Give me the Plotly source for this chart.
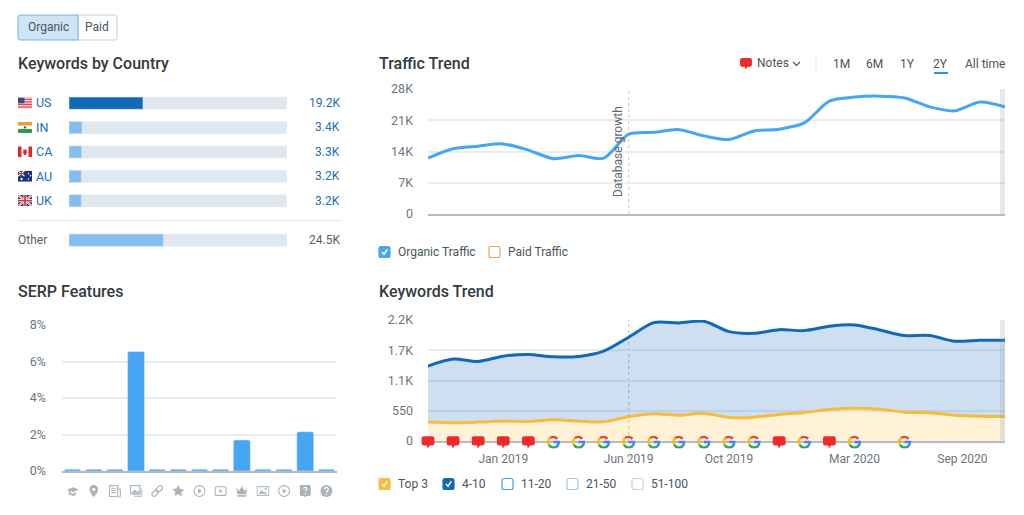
import base64
import plotly.graph_objects as go

W, H = 1024, 515

# ---------- data ----------
countries = ["US", "IN", "CA", "AU", "UK"]
country_values = [19.2, 3.4, 3.3, 3.2, 3.2]
country_labels = ["19.2K", "3.4K", "3.3K", "3.2K", "3.2K"]
other_value = [24.5]
other_label = "24.5K"
country_total = 56.6

serp_features = ["Instant answer", "Local pack", "Top stories", "Image pack", "Site links", "Reviews", "Video",
                 "Featured video", "Top ads", "Images", "Video carousel", "People also ask", "Knowledge panel"]
serp_values = [0.1, 0.1, 0.1, 6.55, 0.1, 0.1, 0.1, 0.1, 1.7, 0.1, 0.1, 2.15, 0.1]

months = ["Oct 2018", "Nov 2018", "Dec 2018", "Jan 2019", "Feb 2019", "Mar 2019", "Apr 2019", "May 2019",
          "Jun 2019", "Jul 2019", "Aug 2019", "Sep 2019", "Oct 2019", "Nov 2019", "Dec 2019", "Jan 2020",
          "Feb 2020", "Mar 2020", "Apr 2020", "May 2020", "Jun 2020", "Jul 2020", "Aug 2020", "Sep 2020"]
organic_traffic = [12.5, 14.6, 15.2, 15.7, 14.3, 12.4, 13.1, 12.5, 17.9, 18.3, 18.9, 17.5,
                   16.7, 18.6, 19.0, 20.4, 25.3, 26.2, 26.4, 26.0, 24.0, 23.1, 25.1, 24.0]
kw_4_10 = [1362, 1489, 1447, 1543, 1573, 1531, 1537, 1634, 1887, 2152, 2146, 2176,
           1989, 1959, 2025, 2007, 2086, 2110, 2019, 1917, 1917, 1814, 1832, 1832]
kw_top3 = [344, 332, 344, 362, 356, 386, 362, 350, 440, 494, 470, 506,
           428, 434, 482, 518, 573, 597, 579, 524, 512, 470, 452, 446]
note_months = [0, 1, 2, 3, 4, 14, 16]
google_months = [5, 6, 7, 8, 9, 10, 11, 12, 13, 15, 17, 19]

traffic_ticks = [0, 7, 14, 21, 28]
traffic_ticktext = ["0", "7K", "14K", "21K", "28K"]
kw_ticks = [0, 550, 1100, 1650, 2200]
kw_ticktext = ["0", "550", "1.1K", "1.7K", "2.2K"]
serp_ticks = [0, 2, 4, 6, 8]
serp_ticktext = ["0%", "2%", "4%", "6%", "8%"]
date_tick_pos = [3, 8, 12, 17, 21.3]
date_tick_text = ["Jan 2019", "Jun 2019", "Oct 2019", "Mar 2020", "Sep 2020"]

# ---------- style ----------
FONT = "Roboto"
INK = "#333a40"
GREY = "#6c757d"
LINK = "#1a6fb8"
TRACK = "#dfe7ef"
DARK = "#1269b8"
LIGHT = "#85bdec"
BLUE = "#46a6f3"
YEL = "#f7bb3e"
GRID = "#e8edf0"
AXIS = "#b4bcc2"
SMOOTH = 0.8


def px(x):
    return x / W


def py(y):
    return 1 - y / H


def svg_uri(body, vb="0 0 24 24"):
    s = f'<svg xmlns="http://www.w3.org/2000/svg" viewBox="{vb}">{body}</svg>'
    return "data:image/svg+xml;base64," + base64.b64encode(s.encode()).decode()


NOTE = svg_uri('<path d="M5 2h14a4 4 0 0 1 4 4v8a4 4 0 0 1-4 4h-4l-4 5-1-5H5a4 4 0 0 1-4-4V6a4 4 0 0 1 4-4z" fill="#ee2a2a"/>')
GOOG = svg_uri(
    '<g fill="none" stroke-width="4.6">'
    '<path d="M19 6.2A10 10 0 0 0 5 4.9" stroke="#ea4335"/>'
    '<path d="M5.6 4.4A10 10 0 0 0 3.8 17.6" stroke="#fbbc05"/>'
    '<path d="M3.6 17.2A10 10 0 0 0 18.6 20" stroke="#34a853"/>'
    '<path d="M18 20.2A10 10 0 0 0 22 12H12" stroke="#4285f4"/></g>')

FLAGS = {
    "US": svg_uri('<rect width="28" height="20" fill="#fff"/>'
                  + "".join(f'<rect y="{i*3}" width="28" height="1.6" fill="#d5333d"/>' for i in range(7))
                  + '<rect width="13" height="10.5" fill="#3c4a8c"/>', "0 0 28 20"),
    "IN": svg_uri('<rect width="28" height="7" fill="#f59a3c"/><rect y="7" width="28" height="6" fill="#fff"/>'
                  '<rect y="13" width="28" height="7" fill="#2c9a3f"/><circle cx="14" cy="10" r="2.2" fill="#3c4a8c"/>',
                  "0 0 28 20"),
    "CA": svg_uri('<rect width="28" height="20" fill="#fff"/><rect width="7" height="20" fill="#e22a2a"/>'
                  '<rect x="21" width="7" height="20" fill="#e22a2a"/>'
                  '<path d="M14 4l1.5 3 2.5-1-1 4 2 .5-3 3.500v2h-4v-2l-3-3.500 2-.5-1-4 2.500 1z" fill="#e22a2a"/>',
                  "0 0 28 20"),
    "AU": svg_uri('<rect width="28" height="20" fill="#1d2f7a"/><path d="M0 0l13 10M13 0L0 10" stroke="#fff" stroke-width="2"/>'
                  '<path d="M6.500 0v10M0 5h13" stroke="#d5333d" stroke-width="2"/>'
                  '<circle cx="21" cy="5" r="1.500" fill="#fff"/><circle cx="25" cy="9" r="1.500" fill="#fff"/>'
                  '<circle cx="21" cy="15" r="1.500" fill="#fff"/><circle cx="7" cy="15" r="2.200" fill="#fff"/>',
                  "0 0 28 20"),
    "UK": svg_uri('<rect width="28" height="20" fill="#26387f"/><path d="M0 0l28 20M28 0L0 20" stroke="#fff" stroke-width="4"/>'
                  '<path d="M0 0l28 20M28 0L0 20" stroke="#d5333d" stroke-width="1.500"/>'
                  '<path d="M14 0v20M0 10h28" stroke="#fff" stroke-width="6"/>'
                  '<path d="M14 0v20M0 10h28" stroke="#d5333d" stroke-width="3.500"/>', "0 0 28 20"),
}

G = "#a8b3ba"
play_c = f'<circle cx="12" cy="12" r="10" fill="none" stroke="{G}" stroke-width="2"/><path d="M9.500 7.500l7 4.500-7 4.500z" fill="{G}"/>'
SERP_ICONS = [
    svg_uri(f'<path d="M1 10l12-5 10 4-10 5-5-2v8H5v-9z" fill="{G}"/><path d="M8 15l5 2 5-3v5l-5 2-5-2z" fill="{G}"/>'),
    svg_uri(f'<path d="M12 1a8 8 0 0 0-8 8c0 6 8 14 8 14s8-8 8-14a8 8 0 0 0-8-8z" fill="{G}"/><circle cx="12" cy="9" r="3" fill="#fff"/>'),
    svg_uri(f'<rect x="2" y="2" width="15" height="20" fill="none" stroke="{G}" stroke-width="2"/><path d="M5 7h9M5 11h9M5 15h9" stroke="{G}" stroke-width="2"/><path d="M17 9h5v12a2 2 0 0 1-5 0" fill="none" stroke="{G}" stroke-width="2"/>'),
    svg_uri(f'<rect x="2" y="2" width="17" height="15" fill="none" stroke="{G}" stroke-width="2"/><path d="M4 15l5-6 4 4 2-2 3 4z" fill="{G}"/><path d="M21 6v13H6M23 9v13H9" fill="none" stroke="{G}" stroke-width="1.500"/>'),
    svg_uri(f'<g fill="none" stroke="{G}" stroke-width="2.200" transform="rotate(-45 12 12)"><rect x="0" y="8" width="13" height="8" rx="4"/><rect x="11" y="8" width="13" height="8" rx="4"/></g>'),
    svg_uri(f'<path d="M12 1l3.400 7.200 7.600 1-5.600 5.300 1.500 7.800L12 17.500 5.100 21.300l1.500-7.800L1 8.200l7.600-1z" fill="{G}"/>'),
    svg_uri(play_c),
    svg_uri(f'<rect x="2" y="4" width="20" height="16" rx="2" fill="none" stroke="{G}" stroke-width="2"/><path d="M9.500 8.500l6 3.500-6 3.500z" fill="{G}"/>'),
    svg_uri(f'<path d="M2 6l5 6 5-9 5 9 5-6-2 12H4z" fill="{G}"/><rect x="4" y="19.500" width="16" height="3" fill="{G}"/>'),
    svg_uri(f'<rect x="1" y="4" width="22" height="16" fill="none" stroke="{G}" stroke-width="2"/><path d="M4 17l6-7 4 5 2-2 4 4z" fill="{G}"/><circle cx="17" cy="8" r="2" fill="{G}"/>'),
    svg_uri(play_c),
    svg_uri(f'<path d="M4 1h16a2 2 0 0 1 2 2v16a2 2 0 0 1-2 2h-6l-3 3-1-3H4a2 2 0 0 1-2-2V3a2 2 0 0 1 2-2z" fill="{G}"/><path d="M9 8a3 3 0 1 1 4.500 2.600c-1 .6-1.500 1.200-1.500 2.400" fill="none" stroke="#fff" stroke-width="2"/><circle cx="12" cy="17" r="1.300" fill="#fff"/>'),
    svg_uri(f'<circle cx="12" cy="12" r="11" fill="{G}"/><path d="M8.500 9a3.500 3.500 0 1 1 5.200 3c-1.200 .7-1.700 1.300-1.700 2.600" fill="none" stroke="#fff" stroke-width="2.400"/><circle cx="12" cy="18.500" r="1.500" fill="#fff"/>'),
]
CHECK = "#fff"

fig = go.Figure()

# ---------- country bars ----------
fig.add_bar(y=countries, x=[country_total] * 5, orientation="h", width=0.5, marker_color=TRACK, xaxis="x", yaxis="y", hoverinfo="skip")
fig.add_bar(y=countries, x=country_values, orientation="h", width=0.5,
            marker_color=[DARK] + [LIGHT] * 4, xaxis="x", yaxis="y")
fig.add_bar(y=["Other"], x=[country_total], orientation="h", width=0.5, marker_color=TRACK, xaxis="x2", yaxis="y2", hoverinfo="skip")
fig.add_bar(y=["Other"], x=other_value, orientation="h", width=0.5, marker_color=LIGHT, xaxis="x2", yaxis="y2")

# ---------- serp bars ----------
fig.add_bar(x=serp_features, y=serp_values, width=0.8, marker_color=BLUE, xaxis="x3", yaxis="y3")

# ---------- traffic ----------
idx = list(range(len(months)))
fig.add_scatter(x=idx, y=organic_traffic, mode="lines", customdata=months,
                line=dict(color=BLUE, width=3, shape="spline", smoothing=SMOOTH), xaxis="x4", yaxis="y4")

# ---------- keywords ----------
fig.add_scatter(x=idx, y=kw_top3, mode="lines", fill="tozeroy", fillcolor="rgba(255,190,50,0.2)", customdata=months,
                line=dict(color=YEL, width=3, shape="spline", smoothing=SMOOTH), xaxis="x5", yaxis="y5")
fig.add_scatter(x=idx, y=kw_4_10, mode="lines", fill="tonexty", fillcolor="rgba(18,105,184,0.21)", customdata=months,
                line=dict(color=DARK, width=3, shape="spline", smoothing=SMOOTH), xaxis="x5", yaxis="y5")


def hidden(**kw):
    return dict(visible=False, automargin=False, **kw)


def dom(a, b):
    return [px(a), px(b)]


def vdom(top, bot):
    return [py(bot), py(top)]


tickfont = dict(family=FONT, size=12, color=GREY)
yfont = dict(family=FONT, size=12.5, color=GREY)
layout = dict(
    width=W, height=H, margin=dict(l=0, r=0, t=0, b=0, pad=0), autosize=False,
    paper_bgcolor="#fff", plot_bgcolor="rgba(0,0,0,0)", showlegend=False,
    barmode="overlay", barcornerradius=2, hovermode=False, font=dict(family=FONT, size=12, color=GREY),
    xaxis=hidden(domain=dom(69, 287), range=[0, country_total]),
    yaxis=hidden(domain=vdom(91, 213), categoryorder="array", categoryarray=countries[::-1], anchor="x"),
    xaxis2=hidden(domain=dom(69, 287), range=[0, country_total], anchor="y2"),
    yaxis2=hidden(domain=vdom(228, 252.4), anchor="x2"),
    xaxis3=dict(domain=dom(62, 337), anchor="y3", showticklabels=False, ticks="", showgrid=False, automargin=False,
                showline=True, linecolor=AXIS, linewidth=2, zeroline=False),
    yaxis3=dict(domain=vdom(325, 471), anchor="x3", range=[0, 8], tickvals=serp_ticks, ticktext=serp_ticktext, automargin=False,
                gridcolor=GRID, gridwidth=1.5, zeroline=False, tickfont=yfont, ticklabelstandoff=15, ticks=""),
    xaxis4=dict(domain=dom(428, 1005), anchor="y4", range=[0, 23], showticklabels=False, ticks="", showgrid=False, automargin=False,
                showline=True, linecolor=AXIS, linewidth=2, zeroline=False),
    yaxis4=dict(domain=vdom(89, 214), anchor="x4", range=[0, 28], tickvals=traffic_ticks, ticktext=traffic_ticktext, automargin=False,
                gridcolor=GRID, gridwidth=1.5, zeroline=False, tickfont=yfont, ticklabelstandoff=14, ticks=""),
    xaxis5=dict(domain=dom(428, 1005), anchor="y5", range=[0, 23], tickvals=date_tick_pos, ticktext=date_tick_text, automargin=False,
                ticks="", showgrid=False, showline=True, linecolor=AXIS, linewidth=2, zeroline=False, tickfont=tickfont,
                ticklabelstandoff=6),
    yaxis5=dict(domain=vdom(320, 441), anchor="x5", range=[0, 2200], tickvals=kw_ticks, ticktext=kw_ticktext, automargin=False,
                gridcolor=GRID, gridwidth=1.5, zeroline=False, tickfont=yfont, ticklabelstandoff=14, ticks=""),
)

ann, shapes, images = [], [], []


def text(x, y, s, size=12, color=GREY, anchor="left", weight=None, **kw):
    ann.append(dict(x=px(x), y=py(y), xref="paper", yref="paper", text=s, showarrow=False, xanchor=anchor, yanchor="middle",
                    borderwidth=0, borderpad=0,
                    font=dict(family=FONT, size=size, color=color, weight=weight), **kw))


def rrect(x0, y0, x1, y1, r=2.5, fill="#fff", line="#c8d0d8", width=1, rl=True, rr=True):
    rl_, rr_ = (r if rl else 0), (r if rr else 0)
    X, Y = px, py
    path = (f"M{X(x0+rl_)},{Y(y0)} L{X(x1-rr_)},{Y(y0)} Q{X(x1)},{Y(y0)} {X(x1)},{Y(y0+rr_)} "
            f"L{X(x1)},{Y(y1-rr_)} Q{X(x1)},{Y(y1)} {X(x1-rr_)},{Y(y1)} L{X(x0+rl_)},{Y(y1)} "
            f"Q{X(x0)},{Y(y1)} {X(x0)},{Y(y1-rl_)} L{X(x0)},{Y(y0+rl_)} Q{X(x0)},{Y(y0)} {X(x0+rl_)},{Y(y0)} Z")
    shapes.append(dict(type="path", xref="paper", yref="paper", path=path, fillcolor=fill, line=dict(color=line, width=width)))


def pline(x0, y0, x1, y1, color, width=1, dash=None, layer="above"):
    shapes.append(dict(type="line", xref="paper", yref="paper", x0=px(x0), y0=py(y0), x1=px(x1), y1=py(y1),
                       line=dict(color=color, width=width, dash=dash), layer=layer))


def checkbox(x, y, fill, border, checked):
    rrect(x, y - 5.5, x + 11, y + 5.5, r=2, fill=fill, line=border, width=1.2)
    if checked:
        p = f"M{px(x+3)},{py(y)} L{px(x+5)},{py(y+2.3)} L{px(x+8.3)},{py(y-2.6)}"
        shapes.append(dict(type="path", xref="paper", yref="paper", path=p, line=dict(color=CHECK, width=1.6)))


# titles
for x, y, s in [(18, 64, "Keywords by Country"), (18, 291, "SERP Features"), (379, 64, "Traffic Trend"), (379, 291, "Keywords Trend")]:
    text(x, y, s, size=16, color=INK, weight=500)

# organic / paid toggle
rrect(78, 15, 117, 40, fill="#fff", line="#c8d0d8", rl=False)
rrect(18, 15, 78, 40, fill="#cfe4f7", line="#74b1e6", rr=False)
text(48, 27.5, "Organic", anchor="center", color="#4a5560")
text(96.5, 27.5, "Paid", anchor="center", color="#4a5560")

# country rows
row_y = [103, 127.4, 151.8, 176.2, 200.6]
for c, lab, y in zip(countries, country_labels, row_y):
    text(36, y, c, color=LINK, size=12.5)
    text(340, y, lab, color=LINK, anchor="right")
    images.append(dict(source=FLAGS[c], xref="paper", yref="paper", x=px(18), y=py(y), sizex=14 / W, sizey=11 / H,
                       xanchor="left", yanchor="middle", sizing="stretch", layer="above"))
text(18, 240, "Other", color="#555e66")
text(340, 240, other_label, color="#555e66", anchor="right")
pline(18, 220.5, 340, 220.5, "#e2e6ea", 1.2)

# serp icons
for i, src in enumerate(SERP_ICONS):
    images.append(dict(source=src, xref="x3", yref="paper", x=i, y=py(491), sizex=0.62, sizey=13 / H,
                       xanchor="center", yanchor="middle", sizing="contain", layer="above"))

# range controls
images.append(dict(source=NOTE, xref="paper", yref="paper", x=px(746), y=py(63.5), sizex=13 / W, sizey=13 / H,
                   xanchor="center", yanchor="middle", sizing="contain", layer="above"))
text(757, 63, "Notes", color="#4a5560")
p = f"M{px(793)},{py(62)} L{px(796.5)},{py(65.5)} L{px(800)},{py(62)}"
shapes.append(dict(type="path", xref="paper", yref="paper", path=p, line=dict(color="#4a5560", width=1.2)))
pline(816, 57, 816, 71, "#dde2e6", 1)
for x, s in [(841, "1M"), (874, "6M"), (907, "1Y"), (940, "2Y"), (985, "All time")]:
    text(x, 64, s, anchor="center", color="#4a5560")
pline(934, 73, 948, 73, "#2f8fe0", 2)

# database growth marker
shapes.append(dict(type="line", xref="x4", yref="y4", x0=8, x1=8, y0=0, y1=28, line=dict(color="#c3c9ce", width=1, dash="dot"), layer="below"))
shapes.append(dict(type="line", xref="x5", yref="y5", x0=8, x1=8, y0=0, y1=2200, line=dict(color="#b9c0c6", width=1, dash="dot"), layer="below"))
text(618, 152, "Database growth", size=12, color="#5f6971", anchor="center", textangle=-90)

# right edge strips
for top, bot in [(89, 214), (320, 441)]:
    shapes.append(dict(type="rect", xref="paper", yref="paper", x0=px(1000), x1=px(1005), y0=py(bot), y1=py(top),
                       fillcolor="rgba(130,150,165,0.2)", line_width=0, layer="above"))


# note markers: positioned on the paper so that the first one is not clipped by the plot area
def month_x(i):
    return px(428 + i * (1005 - 428) / (len(months) - 1))


for i in note_months:
    images.append(dict(source=NOTE, xref="paper", yref="paper", x=month_x(i), y=py(442), sizex=14 / W, sizey=14 / H,
                       xanchor="center", yanchor="middle", sizing="contain", layer="above"))
for i in google_months:
    images.append(dict(source=GOOG, xref="paper", yref="paper", x=month_x(i), y=py(442), sizex=13 / W, sizey=13 / H,
                       xanchor="center", yanchor="middle", sizing="contain", layer="above"))

# legends
checkbox(379, 252, BLUE, BLUE, True)
text(398, 252, "Organic Traffic", color="#4a5560")
checkbox(489, 252, "#fff", "#f2a25c", False)
text(508, 252, "Paid Traffic", color="#4a5560")
for bx, tx, s, fill, border, chk in [
    (379, 398, "Top 3", YEL, YEL, True),
    (443, 462, "4-10", DARK, DARK, True),
    (502, 521, "11-20", "#fff", "#3aa5ec", False),
    (567, 586, "21-50", "#fff", "#9cc9ee", False),
    (632, 651, "51-100", "#fff", "#ccd2d6", False),
]:
    checkbox(bx, 484, fill, border, chk)
    text(tx, 484, s, color="#4a5560")

layout.update(annotations=ann, shapes=shapes, images=images)
fig.update_layout(**layout)
fig.write_html("out.html", config=dict(displayModeBar=False),
               post_script="document.body.style.margin='0';document.body.style.overflow='hidden';")
